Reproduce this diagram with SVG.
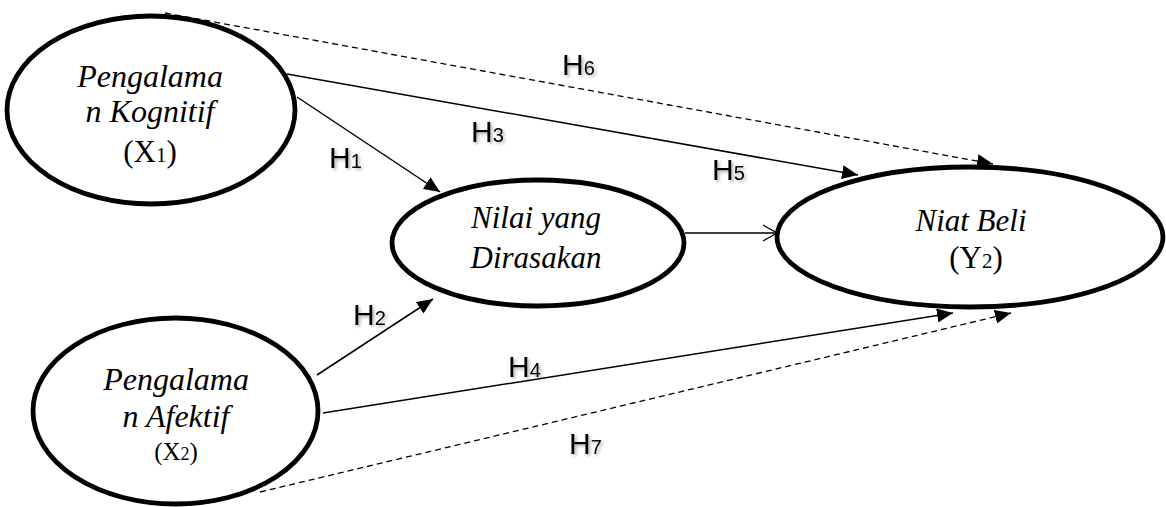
<svg xmlns="http://www.w3.org/2000/svg" width="1166" height="507" viewBox="0 0 1166 507">
<style>
.node{fill:#fff;stroke:#000;stroke-width:4.8}
.t{font-family:"Liberation Serif","Times New Roman",serif;font-size:32px;font-style:italic;fill:#000;text-anchor:middle}
.v{font-family:"Liberation Serif","Times New Roman",serif;font-size:31px;fill:#000;text-anchor:middle}
.e{stroke:#000;stroke-width:1.5;fill:none}
.d{stroke:#000;stroke-width:1.3;fill:none;stroke-dasharray:6 4}
.h{font-family:"Liberation Sans",Arial,sans-serif;font-size:30px;fill:#000;filter:url(#sh)}
.h tspan{font-size:20px}
</style>
<defs>
<filter id="sh" x="-20%" y="-20%" width="150%" height="150%">
<feDropShadow dx="2" dy="2" stdDeviation="1.5" flood-color="#000" flood-opacity="0.3"/>
</filter>
<marker id="a" markerUnits="userSpaceOnUse" markerWidth="18" markerHeight="14" refX="16" refY="7" orient="auto">
<path d="M0,0 L16,7 L0,14 Z" fill="#000"/>
</marker>
<marker id="o" markerUnits="userSpaceOnUse" markerWidth="16" markerHeight="18" refX="14" refY="9" orient="auto">
<path d="M0,1 L14,9 L0,17" fill="none" stroke="#000" stroke-width="1.3"/>
</marker>
</defs>
<g id="connectors">
<line class="d" x1="165" y1="13" x2="993" y2="164" marker-end="url(#a)"/>
<line class="e" x1="287" y1="74" x2="858" y2="175" marker-end="url(#a)"/>
<line class="e" x1="297" y1="97" x2="440" y2="192" marker-end="url(#a)"/>
<line class="e" x1="685" y1="233" x2="777" y2="233" marker-end="url(#o)"/>
<line class="e" x1="317" y1="375" x2="433" y2="299" marker-end="url(#a)"/>
<line class="e" x1="323" y1="413" x2="953" y2="313" marker-end="url(#a)"/>
<line class="d" x1="260" y1="492" x2="1011" y2="313" marker-end="url(#a)"/>
</g>
<g id="labels">
<text class="h" x="562" y="75">H<tspan>6</tspan></text>
<text class="h" x="471" y="142">H<tspan>3</tspan></text>
<text class="h" x="329" y="168">H<tspan>1</tspan></text>
<text class="h" x="712" y="180">H<tspan>5</tspan></text>
<text class="h" x="353" y="325">H<tspan>2</tspan></text>
<text class="h" x="508" y="377">H<tspan>4</tspan></text>
<text class="h" x="569" y="454">H<tspan>7</tspan></text>
</g>
<g id="node-kognitif">
<ellipse class="node" cx="151" cy="110" rx="144" ry="94"/>
<text class="t" x="150" y="87">Pengalama</text>
<text class="t" x="150" y="122">n Kognitif</text>
<text class="v" x="150" y="162">(X<tspan font-size="21px">1</tspan>)</text>
</g>
<g id="node-afektif">
<ellipse class="node" cx="175.5" cy="411" rx="142.5" ry="93"/>
<text class="t" x="176" y="390">Pengalama</text>
<text class="t" x="176" y="427">n Afektif</text>
<text class="v" x="176" y="460" style="font-size:25px">(X<tspan font-size="18px">2</tspan>)</text>
</g>
<g id="node-nilai">
<ellipse class="node" cx="538" cy="243" rx="146" ry="63"/>
<text class="t" x="536" y="228" style="font-size:31px">Nilai yang</text>
<text class="t" x="536" y="268" style="font-size:31px">Dirasakan</text>
</g>
<g id="node-niat">
<ellipse class="node" cx="970" cy="237" rx="193" ry="70"/>
<text class="t" x="971" y="231" style="font-size:31px">Niat Beli</text>
<text class="v" x="976" y="268">(Y<tspan font-size="21px">2</tspan>)</text>
</g>
</svg>
